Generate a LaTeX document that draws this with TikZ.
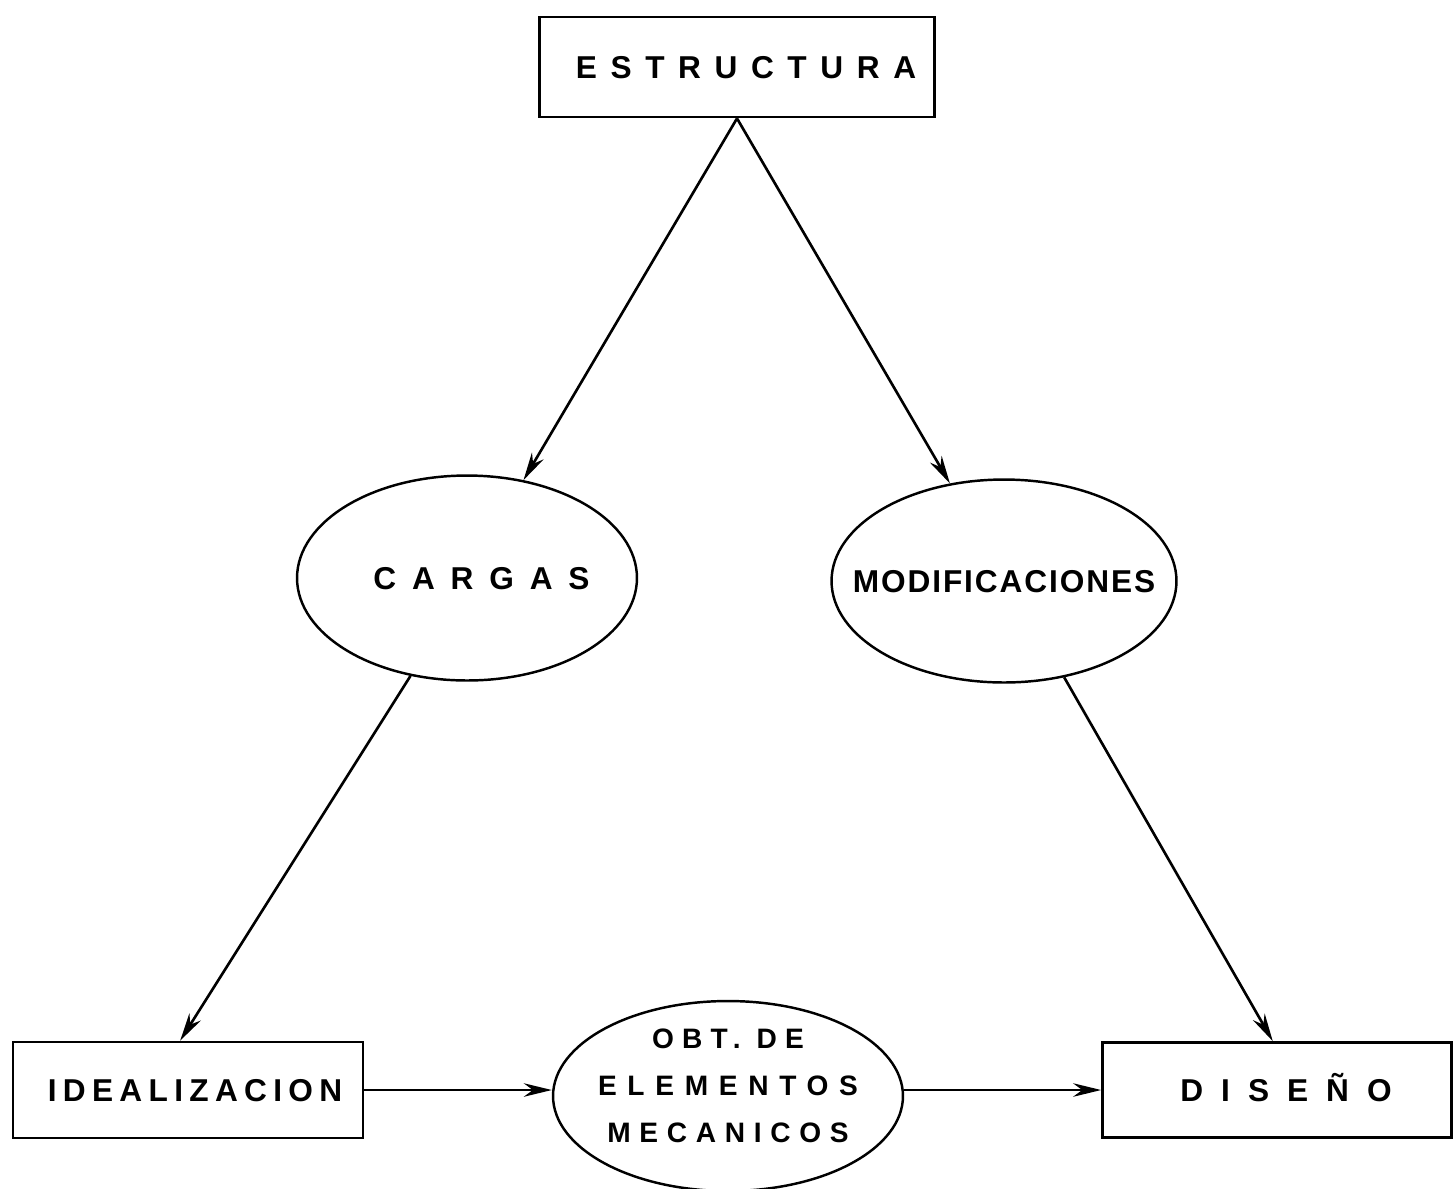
\documentclass[tikz,border=0pt]{standalone}
\usepackage{fontspec}
\setmainfont{Liberation Sans}
\usetikzlibrary{shapes.geometric,arrows.meta}
% #1 letter spacing, #2 twice the horizontal offset, #3 text
\newcommand\spc[3]{\makebox[0pt]{\kern#2{\addfontfeature{LetterSpace=#1}#3}}}
\newcommand\spl[2]{{\addfontfeature{LetterSpace=#1}#2}}
\begin{document}
\begin{tikzpicture}[x=0.02cm,y=-0.02cm,
  lbl/.style={font=\fontsize{18}{21}\selectfont\bfseries,text height=12.9pt,text depth=0pt},
  box/.style={draw,line width=1.6pt,rectangle,inner sep=0pt,lbl},
  oval/.style={draw,line width=1.4pt,ellipse,inner sep=0pt,lbl},
  conn/.style={line width=1.5pt,-{Stealth[length=0.56cm,width=0.27cm]}}]
\useasboundingbox (0,0) rectangle (1453,1188);
\node[box,minimum width=7.9cm,minimum height=2.0cm] (E) at (737,67) {\spc{43}{0.36cm}{ESTRUCTURA}};
\node[oval,minimum width=6.8cm,minimum height=4.1cm] (C) at (467,578) {\spc{50}{0.58cm}{CARGAS}};
\node[oval,minimum width=6.9cm,minimum height=4.06cm] (M) at (1004,581) {\spc{6}{0cm}{MODIFICACIONES}};
\node[box,minimum width=7.0cm,minimum height=1.92cm] (I) at (188,1090) {\spc{20}{0.28cm}{IDEALIZACION}};
\node[oval,minimum width=7.0cm,minimum height=3.8cm] (O) at (728,1096) {};
\node[align=center,inner sep=0pt,font=\fontsize{16}{26.6}\selectfont\bfseries] (Ot) at (728,1086)
  {\spl{29}{OBT. DE}\\\spl{38}{ELEMENTOS}\\\spl{31}{MECANICOS}};
\node[box,minimum width=6.98cm,minimum height=1.9cm] (D) at (1277,1090) {\spc{57}{0.36cm}{DISEÑO}};
\draw[conn] (E.south) -- (C.60);
\draw[conn] (E.south) -- (M.119);
\draw[conn] (C.240) -- (I.99);
\draw[conn] (M.-58) -- (D.95);
\draw[conn] (I.east) -- (I.east -| O.west);
\draw[conn] (D.west -| O.east) -- (D.west);
\end{tikzpicture}
\end{document}
